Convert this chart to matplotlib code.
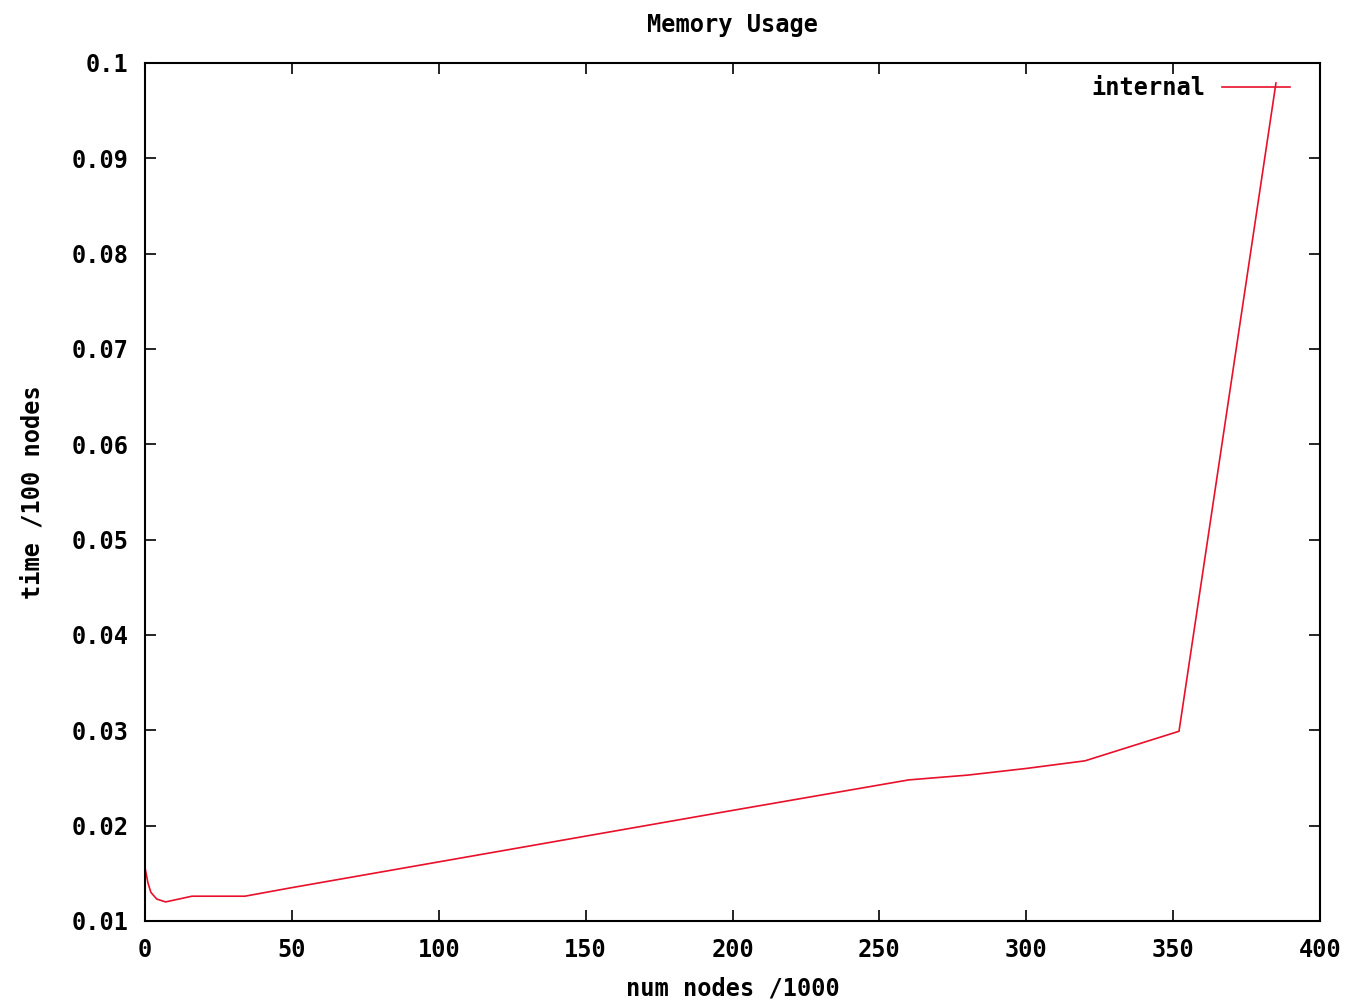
import numpy as np
import matplotlib.pyplot as plt

# dados
num_nodes = [0, 1, 2, 4, 7, 10, 16, 34, 50, 100, 150, 200, 230, 260, 280, 300, 320, 352, 385]
tempo = [0.0156, 0.0140, 0.0130, 0.0123, 0.0120, 0.0122, 0.0126, 0.0126, 0.0135,
         0.0162, 0.0189, 0.0216, 0.0232, 0.0248, 0.0253, 0.0260, 0.0268, 0.0299, 0.0979]

xticks = [0, 50, 100, 150, 200, 250, 300, 350, 400]
yticks = [0.01, 0.02, 0.03, 0.04, 0.05, 0.06, 0.07, 0.08, 0.09, 0.1]
ytick_labels = ['0.01', '0.02', '0.03', '0.04', '0.05', '0.06', '0.07', '0.08', '0.09', '0.1']

plt.rcParams['font.family'] = ['DejaVu Sans Mono']
plt.rcParams['font.weight'] = 'bold'
fs = 17

fig = plt.figure(figsize=(13.54, 10.06), dpi=100)
ax = fig.add_axes([0.1071, 0.0845, 0.9749 - 0.1071, 0.9374 - 0.0845])

ax.plot(num_nodes, tempo, color='#e8102a', lw=1.2, label='internal')

ax.set_xlim(0, 400)
ax.set_ylim(0.01, 0.1)
ax.set_xticks(xticks)
ax.set_xticklabels([str(v) for v in xticks], fontsize=fs, fontweight='bold')
ax.set_yticks(yticks)
ax.set_yticklabels(ytick_labels, fontsize=fs, fontweight='bold')
ax.tick_params(direction='in', length=8, width=1.2, top=True, right=True, pad=12)
for s in ax.spines.values():
    s.set_linewidth(1.5)

ax.set_title('Memory Usage', fontsize=fs, fontweight='bold', pad=22)
ax.set_xlabel('num nodes /1000', fontsize=fs, fontweight='bold', labelpad=11)
ax.set_ylabel('time /100 nodes', fontsize=fs, fontweight='bold', labelpad=19)

leg = ax.legend(loc='upper right', frameon=False, markerfirst=False,
                handlelength=2.9, handletextpad=0.7, borderaxespad=0, borderpad=0,
                bbox_to_anchor=(0.9745, 0.985),
                prop={'weight': 'bold', 'size': fs})

fig.savefig('out.png', dpi=100, facecolor='white')
